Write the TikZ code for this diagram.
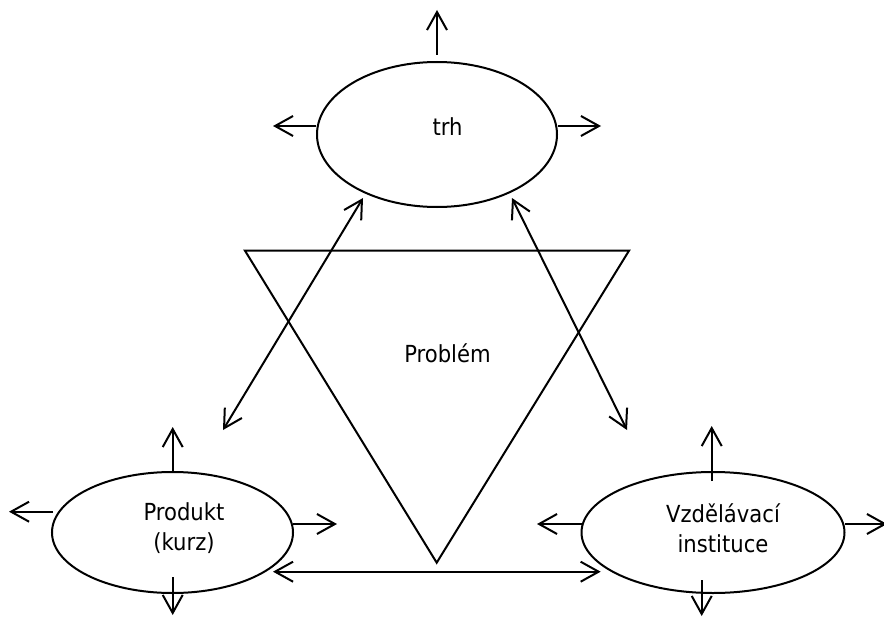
\documentclass[tikz,border=0pt]{standalone}
\usepackage{fontspec}
\setmainfont{DejaVu Sans Condensed}
\usetikzlibrary{shapes.geometric,arrows.meta}
\begin{document}
\begin{tikzpicture}[x=1pt,y=-1pt,line width=2pt,
  oval/.style={draw,ellipse,inner sep=0pt},
  lbl/.style={font=\fontsize{23.5}{30}\selectfont,align=center,inner sep=0pt},
  barb/.tip={Straight Barb[length=18pt,width=20pt]},
  outarrow/.style={-barb},
  twoway/.style={barb-barb}]
\useasboundingbox (0,0) rectangle (884,618);

% the three ovals
\node[oval,minimum width=240pt,minimum height=145pt] (trh) at (437,134.5) {};
\node[oval,minimum width=241pt,minimum height=121pt] (prod) at (172.5,532.5) {};
\node[oval,minimum width=263pt,minimum height=121pt] (inst) at (713,532.5) {};

\node[lbl] (trhtext) at (447.5,127) {trh};
\node[lbl] (prodtext) at (184,528) {Produkt\\(kurz)};
\node[lbl] (insttext) at (723,528) {Vzdělávací\\instituce};

% the problem triangle
\coordinate (tl) at (245,250.7);
\coordinate (tr) at (629,250.7);
\coordinate (tb) at (436.7,562.7);
\draw (tl) -- (tr) -- (tb) -- cycle;
\node[lbl] (probtext) at (447.5,353) {Problém};

% outward arrows of the market
\coordinate (trhN0) at (437,55);   \coordinate (trhN1) at (437,10);
\coordinate (trhW1) at (273,126);  \coordinate (trhE1) at (601,126);
\draw[outarrow] (trhN0) -- (trhN1);
\draw[outarrow] (trh.west |- trhW1) -- (trhW1);
\draw[outarrow] (trh.east |- trhE1) -- (trhE1);

% outward arrows of the product
\coordinate (prodN0) at (172.7,471); \coordinate (prodN1) at (172.7,427);
\coordinate (prodW0) at (53,511.7);  \coordinate (prodW1) at (9,511.7);
\coordinate (prodE0) at (293,524);   \coordinate (prodE1) at (337,524);
\coordinate (prodS0) at (172.7,577); \coordinate (prodS1) at (172.7,615);
\draw[outarrow] (prodN0) -- (prodN1);
\draw[outarrow] (prodW0) -- (prodW1);
\draw[outarrow] (prodE0) -- (prodE1);
\draw[outarrow] (prodS0) -- (prodS1);

% outward arrows of the institution
\coordinate (instN0) at (711.7,481); \coordinate (instN1) at (711.7,426);
\coordinate (instW0) at (581.7,524); \coordinate (instW1) at (537,524);
\coordinate (instE0) at (845,524);   \coordinate (instE1) at (887,524);
\coordinate (instS0) at (701.7,580); \coordinate (instS1) at (701.7,616);
\draw[outarrow] (instN0) -- (instN1);
\draw[outarrow] (instW0) -- (instW1);
\draw[outarrow] (instE0) -- (instE1);
\draw[outarrow] (instS0) -- (instS1);

% links between the three parties
\coordinate (lA) at (223,430);   \coordinate (lB) at (363,198);
\coordinate (rA) at (512,198);   \coordinate (rB) at (627,430);
\coordinate (bA) at (273,571.7); \coordinate (bB) at (600.7,571.7);
\draw[twoway] (lA) -- (lB);
\draw[twoway] (rA) -- (rB);
\draw[twoway] (bA) -- (bB);
\end{tikzpicture}
\end{document}
